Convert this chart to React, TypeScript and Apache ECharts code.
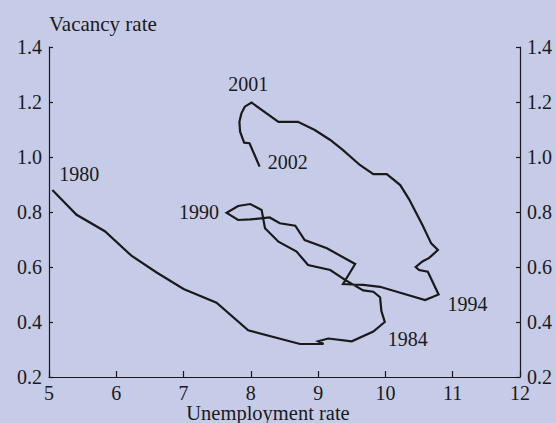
import React, { useEffect, useRef } from "react";
import * as echarts from "echarts";

// Path of (unemployment rate, vacancy rate), in chronological order 1980 -> 2002
const unemployment = [
  5.05, 5.41, 5.83, 6.23, 6.6, 7.0, 7.49, 7.96, 8.73, 9.08, 9.0, 9.15, 9.5, 9.82, 9.99, 9.94, 9.92,
  9.82, 9.67, 9.4, 9.18, 8.85, 8.68, 8.41, 8.21, 8.16, 7.99, 7.81, 7.64, 7.81, 7.99, 8.28, 8.43,
  8.66, 8.8, 9.13, 9.55, 9.37, 9.67, 9.92, 10.17, 10.59, 10.79, 10.63, 10.5, 10.45, 10.55, 10.65,
  10.7, 10.78, 10.68, 10.55, 10.35, 10.22, 10.02, 9.82, 9.62, 9.37, 9.18, 8.95, 8.7, 8.41, 8.01,
  7.91, 7.86, 7.83, 7.84, 7.9, 7.98, 8.13,
];
const vacancy = [
  0.88, 0.79, 0.73, 0.64, 0.58, 0.52, 0.47, 0.37, 0.32, 0.32, 0.33, 0.34, 0.33, 0.365, 0.4, 0.44,
  0.49, 0.51, 0.515, 0.553, 0.589, 0.607, 0.656, 0.692, 0.741, 0.807, 0.829, 0.822, 0.797, 0.771,
  0.773, 0.78, 0.759, 0.75, 0.698, 0.668, 0.611, 0.538, 0.535, 0.528, 0.51, 0.48, 0.5, 0.583,
  0.589, 0.6, 0.62, 0.633, 0.644, 0.662, 0.686, 0.753, 0.847, 0.898, 0.938, 0.938, 0.971, 1.025,
  1.062, 1.098, 1.128, 1.128, 1.198, 1.183, 1.159, 1.128, 1.092, 1.052, 1.05, 0.965,
];

// Year annotations (label centre in data coordinates)
const yearLabels = ["1980", "1984", "1990", "1994", "2001", "2002"];
const yearLabelX = [5.45, 10.33, 7.23, 11.22, 7.96, 8.55];
const yearLabelY = [0.94, 0.34, 0.8, 0.465, 1.264, 0.982];

const xTicks = { min: 5, max: 12, interval: 1 };
const yTicks = { min: 0.2, max: 1.4, interval: 0.2 };

const FONT = '"Liberation Serif", "Times New Roman", serif';
const INK = "#1a1a1a";
const BG = "#c6cbe7";

export default function App() {
  const ref = useRef<HTMLDivElement>(null);

  useEffect(() => {
    if (!ref.current) return;
    const chart = echarts.init(ref.current, null, { renderer: "svg" });

    const pathData = unemployment.map((u, i) => [u, vacancy[i]]);
    const labelData = yearLabels.map((name, i) => ({
      name,
      value: [yearLabelX[i], yearLabelY[i]],
    }));

    const yAxisCommon = {
      type: "value" as const,
      min: yTicks.min,
      max: yTicks.max,
      interval: yTicks.interval,
      splitLine: { show: false },
      axisLine: { show: true, lineStyle: { color: INK, width: 1.2 } },
      axisTick: { show: true, inside: true, length: 4, lineStyle: { color: INK, width: 1.2 } },
      axisLabel: {
        color: INK,
        fontFamily: FONT,
        fontSize: 20,
        margin: 7,
        formatter: (v: number) => v.toFixed(1),
      },
    };

    chart.setOption({
      animation: false,
      backgroundColor: BG,
      grid: {
        left: 49,
        right: 36,
        top: 47,
        bottom: 46,
        outerBoundsMode: "none",
        containLabel: false,
      },
      xAxis: {
        type: "value",
        min: xTicks.min,
        max: xTicks.max,
        interval: xTicks.interval,
        splitLine: { show: false },
        axisLine: { show: true, onZero: false, lineStyle: { color: INK, width: 1.2 } },
        axisTick: { show: true, inside: true, length: 6, lineStyle: { color: INK, width: 1.2 } },
        axisLabel: { color: INK, fontFamily: FONT, fontSize: 20, margin: 6 },
      },
      yAxis: [
        { ...yAxisCommon, position: "left" },
        { ...yAxisCommon, position: "right" },
      ],
      graphic: [
        {
          type: "text",
          left: 49,
          top: 13,
          style: { text: "Vacancy rate", fill: INK, font: `21px ${FONT}` },
        },
        {
          type: "text",
          x: 268,
          y: 413,
          style: {
            text: "Unemployment rate",
            fill: INK,
            font: `20.5px ${FONT}`,
            align: "center",
            verticalAlign: "middle",
          },
        },
      ],
      series: [
        {
          type: "line",
          data: pathData,
          yAxisIndex: 0,
          showSymbol: false,
          symbol: "none",
          lineStyle: { color: INK, width: 2.2, join: "miter" },
          z: 3,
        },
        {
          type: "scatter",
          data: labelData,
          yAxisIndex: 0,
          symbolSize: 0,
          itemStyle: { color: "transparent", opacity: 1 },
          label: {
            show: true,
            position: "inside",
            formatter: "{b}",
            color: INK,
            opacity: 1,
            fontFamily: FONT,
            fontSize: 20,
            textBorderWidth: 0,
            textBorderColor: "transparent",
          },
          z: 4,
        },
      ],
    });

    return () => chart.dispose();
  }, []);

  return <div ref={ref} style={{ width: 556, height: 423, position: "absolute", left: 0, top: 0 }} />;
}
